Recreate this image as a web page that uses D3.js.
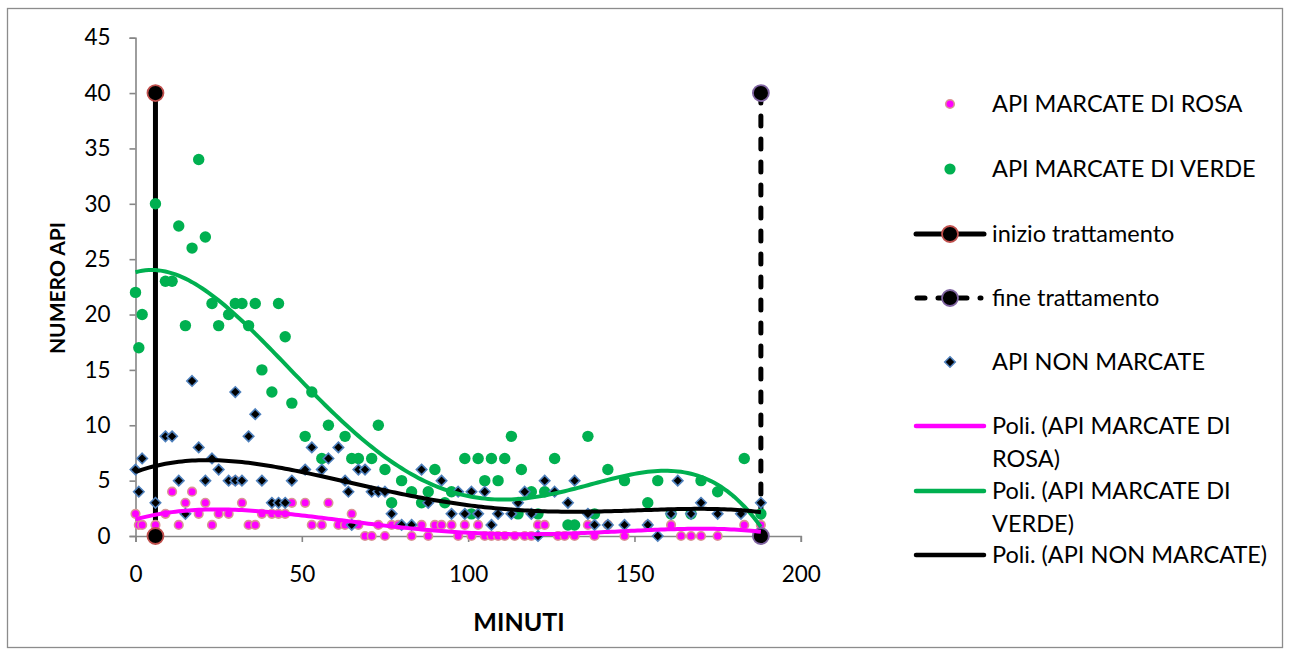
<!DOCTYPE html>
<html>
<head>
<meta charset="utf-8">
<script src="https://cdn.jsdelivr.net/npm/d3@7/dist/d3.min.js"></script>
<style>
  html, body { margin: 0; padding: 0; background: #fff; }
  svg { display: block; font-family: Lato, "Liberation Sans", sans-serif; }
</style>
</head>
<body>
<svg id="chart" width="1291" height="656"></svg>
<script>
// Bees counted per minute: pink-marked, green-marked and unmarked.
const rosa = [
  [0,2],[1,1],[2,1],[6,1],[9,2],[11,4],[13,1],[15,3],[17,4],[19,2],[21,3],[23,1],[25,2],[28,2],
  [30,5],[32,3],[34,1],[36,1],[38,2],[41,2],[43,2],[45,2],[47,3],[51,3],[53,1],[56,1],[58,3],
  [61,1],[63,1],[65,2],[67,1],[69,0],[71,0],[73,1],[75,0],[77,1],[79,1],[83,0],[86,1],[88,0],
  [90,1],[92,1],[95,1],[97,0],[99,1],[101,0],[103,1],[105,0],[107,0],[109,0],[111,0],[114,0],
  [117,0],[119,0],[121,1],[123,1],[127,0],[129,0],[132,0],[136,1],[138,0],[142,1],[147,0],
  [154,1],[161,1],[164,0],[167,0],[170,0],[175,0],[183,1],[188,1]
];
const verde = [
  [0,22],[1,17],[2,20],[6,30],[9,23],[11,23],[13,28],[15,19],[17,26],[19,34],[21,27],[23,21],
  [25,19],[28,20],[30,21],[32,21],[34,19],[36,21],[38,15],[41,13],[43,21],[45,18],[47,12],
  [51,9],[53,13],[56,7],[58,10],[63,9],[65,7],[67,7],[71,7],[73,10],[75,6],[77,3],[80,5],
  [83,4],[86,3],[88,4],[90,6],[93,3],[95,4],[99,7],[101,2],[103,7],[105,5],[107,7],[109,5],
  [111,7],[113,9],[115,2],[116,6],[119,4],[121,2],[123,4],[126,7],[130,1],[132,1],[136,9],
  [138,2],[142,6],[147,5],[154,3],[157,5],[161,2],[167,2],[170,5],[175,4],[183,7],[188,2]
];
const nonMarcate = [
  [0,6],[1,4],[2,7],[6,3],[9,9],[11,9],[13,5],[15,2],[17,14],[19,8],[21,5],[23,7],[25,6],[28,5],
  [30,13],[30,5],[32,5],[34,9],[36,11],[38,5],[41,3],[43,3],[45,3],[47,5],[51,6],[53,8],[56,6],
  [58,7],[61,8],[63,5],[64,4],[65,1],[67,6],[69,6],[71,4],[73,4],[75,4],[77,2],[80,1],[83,1],
  [86,6],[88,3],[92,5],[95,2],[97,4],[99,2],[101,4],[103,2],[105,4],[107,1],[109,2],[113,2],
  [115,3],[117,4],[119,2],[121,0],[123,5],[126,4],[130,3],[132,5],[136,2],[138,1],[142,1],
  [147,1],[154,1],[157,0],[161,2],[163,5],[167,2],[170,3],[175,2],[182,2],[188,3]
];
// Treatment start / end markers (vertical segments)
const inizio = [[6,40],[6,0]];
const fine = [[188,40],[188,0]];

const xTicks = [0, 50, 100, 150, 200];
const yTicks = [0, 5, 10, 15, 20, 25, 30, 35, 40, 45];

const legendLabels = [
  "API MARCATE DI ROSA",
  "API MARCATE DI VERDE",
  "inizio trattamento",
  "fine trattamento",
  "API NON MARCATE",
  ["Poli. (API MARCATE DI", "ROSA)"],
  ["Poli. (API MARCATE DI", "VERDE)"],
  "Poli. (API NON MARCATE)"
];

const C = {
  pink: "#ff00ff", pinkEdge: "#d99694",
  green: "#00b050",
  black: "#000000",
  startEdge: "#c0504d", endEdge: "#8064a2",
  diamondEdge: "#4f81bd",
  axis: "#868686"
};

// Least-squares polynomial (order 4) trendline, like a spreadsheet "Poli." trend.
function polyFit(points, order) {
  const s = 100; // scale x for numerical stability
  const n = order + 1;
  const A = Array.from({length: n}, () => new Array(n + 1).fill(0));
  points.forEach(([x, y]) => {
    const xs = x / s;
    for (let i = 0; i < n; i++) {
      for (let j = 0; j < n; j++) A[i][j] += Math.pow(xs, i + j);
      A[i][n] += y * Math.pow(xs, i);
    }
  });
  for (let c = 0; c < n; c++) {
    let p = c;
    for (let r = c + 1; r < n; r++) if (Math.abs(A[r][c]) > Math.abs(A[p][c])) p = r;
    [A[c], A[p]] = [A[p], A[c]];
    for (let r = 0; r < n; r++) {
      if (r === c) continue;
      const f = A[r][c] / A[c][c];
      for (let k = c; k <= n; k++) A[r][k] -= f * A[c][k];
    }
  }
  const coef = A.map((row, i) => row[n] / row[i]);
  return x => coef.reduce((acc, c, i) => acc + c * Math.pow(x / s, i), 0);
}

const svg = d3.select("#chart");

// chart frame
svg.append("rect")
  .attr("x", 7.5).attr("y", 8.5).attr("width", 1275).attr("height", 639)
  .attr("fill", "#fff").attr("stroke", "#8c8c8c").attr("stroke-width", 1.3);

const x = d3.scaleLinear().domain([0, 200]).range([135.5, 800.8]);
const y = d3.scaleLinear().domain([0, 45]).range([536, 37.7]);

// axes
const xAxis = svg.append("g").attr("transform", `translate(0,${y(0)})`)
  .call(d3.axisBottom(x).tickValues(xTicks).tickSize(6).tickPadding(22).tickFormat(d3.format("d")));
const yAxis = svg.append("g").attr("transform", `translate(${x(0)},0)`)
  .call(d3.axisLeft(y).tickValues(yTicks).tickSize(6).tickPadding(19).tickFormat(d3.format("d")));
[xAxis, yAxis].forEach(g => {
  g.select(".domain").attr("stroke", C.axis).attr("stroke-width", 1.6);
  g.selectAll(".tick line").attr("stroke", C.axis).attr("stroke-width", 1.6);
  g.selectAll(".tick text").attr("fill", "#000").style("font-size", "22.5px")
    .style("font-family", "Lato, 'Liberation Sans', sans-serif");
});
xAxis.selectAll(".tick text").attr("dy", "0.35em").attr("y", 38);

// axis titles
svg.append("text").attr("x", 519).attr("y", 631).attr("text-anchor", "middle")
  .style("font-size", "25px").style("font-weight", "bold").text("MINUTI");
svg.append("text").attr("transform", "translate(65,288) rotate(-90)").attr("text-anchor", "middle")
  .style("font-size", "21px").style("font-weight", "bold").text("NUMERO API");

const plot = svg.append("g");
const line = d3.line().x(d => x(d[0])).y(d => y(d[1]));

// treatment start / end lines
plot.append("path").datum(inizio).attr("d", line)
  .attr("stroke", C.black).attr("stroke-width", 5).attr("fill", "none");
plot.append("path").datum(fine).attr("d", line)
  .attr("stroke", C.black).attr("stroke-width", 5).attr("fill", "none")
  .attr("stroke-dasharray", "10,13").attr("stroke-linecap", "round");

// markers
plot.append("g").selectAll("circle").data(rosa).join("circle")
  .attr("cx", d => x(d[0])).attr("cy", d => y(d[1])).attr("r", 4.3)
  .attr("fill", C.pink).attr("stroke", C.pinkEdge).attr("stroke-width", 1.6);
plot.append("g").selectAll("circle").data(verde).join("circle")
  .attr("cx", d => x(d[0])).attr("cy", d => y(d[1])).attr("r", 5.7)
  .attr("fill", C.green);
plot.append("g").selectAll("circle").data(inizio).join("circle")
  .attr("cx", d => x(d[0])).attr("cy", d => y(d[1])).attr("r", 8)
  .attr("fill", C.black).attr("stroke", C.startEdge).attr("stroke-width", 1.8);
plot.append("g").selectAll("circle").data(fine).join("circle")
  .attr("cx", d => x(d[0])).attr("cy", d => y(d[1])).attr("r", 8)
  .attr("fill", C.black).attr("stroke", C.endEdge).attr("stroke-width", 1.8);
const diamond = d3.symbol().type(d3.symbolDiamond2).size(70);
plot.append("g").selectAll("path").data(nonMarcate).join("path")
  .attr("transform", d => `translate(${x(d[0])},${y(d[1])})`)
  .attr("d", diamond)
  .attr("fill", C.black).attr("stroke", C.diamondEdge).attr("stroke-width", 1.6);

// polynomial trendlines
const trends = [
  {data: rosa, color: C.pink},
  {data: verde, color: C.green},
  {data: nonMarcate, color: C.black}
];
trends.forEach(t => {
  const f = polyFit(t.data, 4);
  const xs = d3.extent(t.data, d => d[0]);
  const pts = d3.range(xs[0], xs[1] + 0.001, 1).map(v => [v, f(v)]);
  plot.append("path").datum(pts).attr("d", line)
    .attr("fill", "none").attr("stroke", t.color).attr("stroke-width", 4);
});

// legend
const lg = svg.append("g").style("font-size", "23.5px");
const rowsY = [104, 169, 234, 298, 362, 426, 491, 555];
const lineH = 32.5;
legendLabels.forEach((lab, i) => {
  const lines = Array.isArray(lab) ? lab : [lab];
  const t = lg.append("text").attr("x", 992).attr("y", rowsY[i]);
  lines.forEach((s, k) => {
    t.append("tspan").attr("x", 992).attr("dy", k === 0 ? "0.35em" : lineH).text(s);
  });
});
lg.append("circle").attr("cx", 950).attr("cy", rowsY[0]).attr("r", 4.3)
  .attr("fill", C.pink).attr("stroke", C.pinkEdge).attr("stroke-width", 1.6);
lg.append("circle").attr("cx", 950).attr("cy", rowsY[1]).attr("r", 5.6).attr("fill", C.green);
lg.append("line").attr("x1", 916).attr("x2", 984).attr("y1", rowsY[2]).attr("y2", rowsY[2])
  .attr("stroke", C.black).attr("stroke-width", 5).attr("stroke-linecap", "round");
lg.append("circle").attr("cx", 950).attr("cy", rowsY[2]).attr("r", 8)
  .attr("fill", C.black).attr("stroke", C.startEdge).attr("stroke-width", 1.8);
lg.append("line").attr("x1", 917).attr("x2", 981).attr("y1", rowsY[3]).attr("y2", rowsY[3])
  .attr("stroke", C.black).attr("stroke-width", 5).attr("stroke-linecap", "round")
  .attr("stroke-dasharray", "8,13");
lg.append("circle").attr("cx", 950).attr("cy", rowsY[3]).attr("r", 8)
  .attr("fill", C.black).attr("stroke", C.endEdge).attr("stroke-width", 1.8);
lg.append("path").attr("transform", `translate(950,${rowsY[4]})`).attr("d", diamond)
  .attr("fill", C.black).attr("stroke", C.diamondEdge).attr("stroke-width", 1.6);
[[rowsY[5], C.pink], [rowsY[6], C.green], [rowsY[7], C.black]].forEach(([yy, col]) => {
  lg.append("line").attr("x1", 916).attr("x2", 984).attr("y1", yy).attr("y2", yy)
    .attr("stroke", col).attr("stroke-width", 4.5).attr("stroke-linecap", "round");
});
</script>
</body>
</html>
